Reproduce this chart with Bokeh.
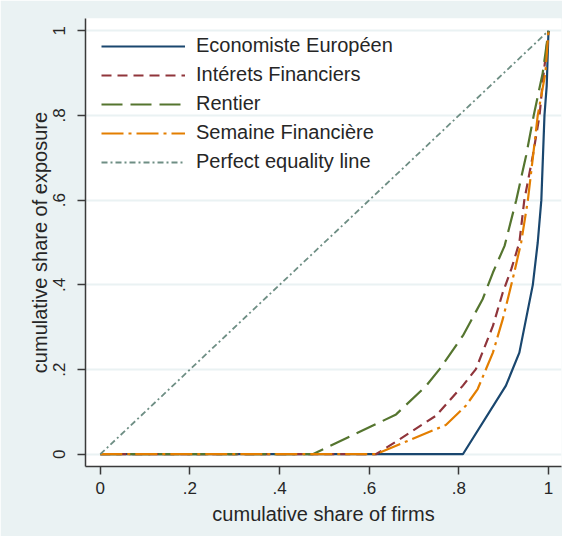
from bokeh.plotting import figure
from bokeh.models import FixedTicker, Legend, LegendItem, Range1d
from bokeh.embed import file_html
from bokeh.resources import INLINE

# ---- data ----
eco_x = [0, 0.809, 0.905, 0.935, 0.965, 0.976, 0.984, 0.991, 0.996, 1.0]
eco_y = [0, 0, 0.162, 0.24, 0.40, 0.5, 0.6, 0.8, 0.87, 1.0]

int_x = [0, 0.615, 0.66, 0.749, 0.809, 0.838, 0.876, 0.898, 0.917, 0.935, 0.946, 0.965, 0.98, 0.987, 1.0]
int_y = [0, 0, 0.03, 0.091, 0.162, 0.201, 0.303, 0.382, 0.437, 0.5, 0.6, 0.705, 0.8, 0.878, 1.0]

ren_x = [0, 0.474, 0.615, 0.66, 0.727, 0.757, 0.809, 0.853, 0.876, 0.902, 0.928, 0.95, 0.967, 0.987, 1.0]
ren_y = [0, 0, 0.071, 0.094, 0.1615, 0.201, 0.28, 0.366, 0.429, 0.492, 0.6, 0.705, 0.8, 0.9, 1.0]

sem_x = [0, 0.615, 0.66, 0.771, 0.816, 0.842, 0.876, 0.898, 0.92, 0.939, 0.954, 0.976, 0.993, 1.0]
sem_y = [0, 0, 0.02, 0.069, 0.115, 0.154, 0.24, 0.319, 0.413, 0.5, 0.6, 0.8, 0.9, 1.0]

eq_x = [0, 1]
eq_y = [0, 1]

ticks = [0, 0.2, 0.4, 0.6, 0.8, 1]
tick_labels = ["0", ".2", ".4", ".6", ".8", "1"]

series_names = ["Economiste Européen", "Intérets Financiers", "Rentier",
                "Semaine Financière", "Perfect equality line"]

# ---- figure ----
BG = "#EAF2F3"
GRID = "#EAF2F3"
TXT = "#262626"
FONT = "Liberation Sans"

p = figure(width=562, height=536, output_backend="svg", toolbar_location=None,
           x_range=Range1d(-0.033, 1.029), y_range=Range1d(-0.029, 1.029),
           min_border_left=85, min_border_right=1, min_border_top=18, min_border_bottom=70,
           border_fill_color=BG, background_fill_color="white")
p.outline_line_color = None

r1 = p.line(eco_x, eco_y, line_color="#1a476f", line_width=2.2)
r2 = p.line(int_x, int_y, line_color="#90353b", line_width=2.2, line_dash="10 6")
r3 = p.line(ren_x, ren_y, line_color="#55752f", line_width=2.2, line_dash="21 8")
r4 = p.line(sem_x, sem_y, line_color="#e37e00", line_width=2.2, line_dash="22 5 3 5")
r5 = p.line(eq_x, eq_y, line_color="#6e8e84", line_width=1.8, line_dash="6 3 2 3")

labels = {t: l for t, l in zip(ticks, tick_labels)}
for ax in (p.xaxis[0], p.yaxis[0]):
    ax.ticker = FixedTicker(ticks=ticks)
    ax.major_label_overrides = labels
    ax.minor_tick_line_color = None
    ax.major_tick_out = 8
    ax.major_tick_in = 0
    ax.axis_line_color = "#3a3a3a"
    ax.axis_line_width = 1.5
    ax.major_tick_line_color = "#3a3a3a"
    ax.major_tick_line_width = 1.5
    ax.major_label_text_font = FONT
    ax.major_label_text_font_size = "17px"
    ax.major_label_text_color = TXT
    ax.axis_label_text_font = FONT
    ax.axis_label_text_font_size = "20px"
    ax.axis_label_text_font_style = "normal"
    ax.axis_label_text_color = TXT

p.xaxis.axis_label = "cumulative share of firms"
p.yaxis.axis_label = "cumulative share of exposure"
p.yaxis.major_label_orientation = "vertical"
p.xaxis.major_label_standoff = 7
p.yaxis.major_label_standoff = 12
p.xaxis.axis_label_standoff = 6
p.yaxis.axis_label_standoff = 0

p.xgrid.visible = False
p.ygrid.ticker = FixedTicker(ticks=ticks)
p.ygrid.grid_line_color = GRID
p.ygrid.grid_line_width = 2

legend = Legend(items=[LegendItem(label=n, renderers=[r]) for n, r in
                       zip(series_names, [r1, r2, r3, r4, r5])],
                location="top_left")
legend.background_fill_alpha = 0
legend.border_line_color = None
legend.margin = 16
legend.padding = 0
legend.glyph_width = 84
legend.glyph_height = 20
legend.label_height = 20
legend.label_standoff = 11
legend.spacing = 6
legend.label_text_font = FONT
legend.label_text_font_size = "20px"
legend.label_text_color = TXT
p.add_layout(legend)

open("out.html", "w").write(file_html(p, INLINE))
